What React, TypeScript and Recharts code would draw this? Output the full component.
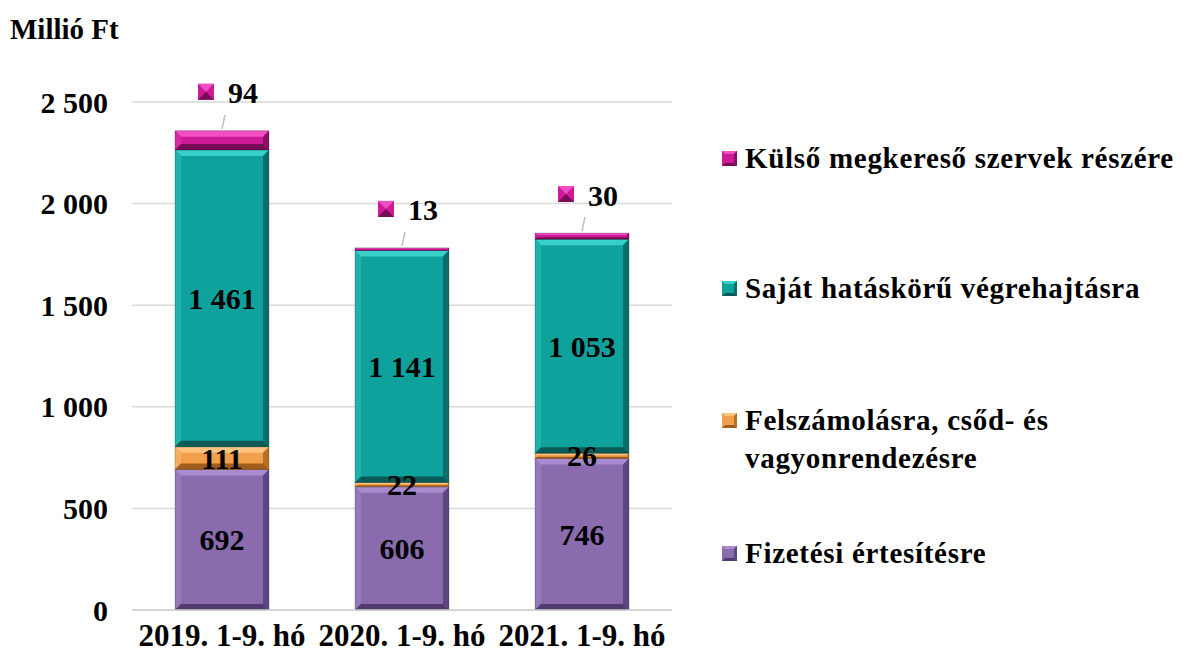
import React from "react";
import { BarChart, Bar, XAxis, YAxis, CartesianGrid, LabelList } from "recharts";

const CATEGORIES = ["2019. 1-9. hó", "2020. 1-9. hó", "2021. 1-9. hó"];
const FIZETESI = [692, 606, 746];
const FELSZAMOLAS = [111, 22, 26];
const SAJAT = [1461, 1141, 1053];
const KULSO = [94, 13, 30];
const Y_TICKS = [0, 500, 1000, 1500, 2000, 2500];

const SERIES_KEYS = ["fizetesi", "felszamolas", "sajat", "kulso"];
const SERIES_NAMES = [
  "Fizetési értesítésre",
  "Felszámolásra, csőd- és vagyonrendezésre",
  "Saját hatáskörű végrehajtásra",
  "Külső megkereső szervek részére",
];

const FONT = '"Liberation Serif", "Times New Roman", serif';

// base, top, left, right, bottom
const SHADES: Record<string, string[]> = {
  fizetesi: ["#8a6bae", "#a88ccf", "#957ab9", "#5e4680", "#4f3b6d"],
  felszamolas: ["#f3a04c", "#fdc380", "#f6ad60", "#b86e25", "#9f5d1d"],
  sajat: ["#0fa29d", "#38d0ca", "#1cb3ad", "#0a6e6b", "#085a57"],
  kulso: ["#cf1a98", "#ef4fc0", "#d92aa3", "#8c0f66", "#760c56"],
};

const data = CATEGORIES.map((name, i) => ({
  name,
  fizetesi: FIZETESI[i],
  felszamolas: FELSZAMOLAS[i],
  sajat: SAJAT[i],
  kulso: KULSO[i],
}));

function formatHu(v: number): string {
  return String(v).replace(/\B(?=(\d{3})+(?!\d))/g, " ");
}

function BevelBar(props: any) {
  const { x, y, width: w, height: h, shade } = props;
  if (!w || !h || h <= 0) return null;
  const c = SHADES[shade];
  const b = Math.min(6, h / 3, w / 3);
  return (
    <g>
      <rect x={x} y={y} width={w} height={h} fill={c[0]} />
      <polygon points={`${x},${y} ${x + w},${y} ${x + w - b},${y + b} ${x + b},${y + b}`} fill={c[1]} />
      <polygon points={`${x},${y} ${x + b},${y + b} ${x + b},${y + h - b} ${x},${y + h}`} fill={c[2]} />
      <polygon points={`${x + w},${y} ${x + w},${y + h} ${x + w - b},${y + h - b} ${x + w - b},${y + b}`} fill={c[3]} />
      <polygon points={`${x},${y + h} ${x + b},${y + h - b} ${x + w - b},${y + h - b} ${x + w},${y + h}`} fill={c[4]} />
      <rect x={x} y={y} width={w} height={h} fill="none" stroke="rgba(0,0,0,0.35)" strokeWidth={0.6} />
    </g>
  );
}

function InnerLabel(props: any) {
  const { x, y, width, height, value } = props;
  return (
    <text
      x={x + width / 2}
      y={y + height / 2}
      textAnchor="middle"
      dominantBaseline="central"
      fontFamily={FONT}
      fontWeight="bold"
      fontSize={30}
      fill="#000"
    >
      {formatHu(value)}
    </text>
  );
}

function TopLabel(props: any) {
  const { x, y, width, value } = props;
  const cx = x + width / 2;
  const c = SHADES.kulso;
  return (
    <g>
      <line x1={cx} y1={y - 2} x2={cx + 3} y2={y - 16} stroke="#bdbdbd" strokeWidth={1.5} />
      <rect x={cx - 24} y={y - 47} width={16} height={16} fill={c[0]} />
      <polygon points={`${cx - 24},${y - 47} ${cx - 8},${y - 47} ${cx - 16},${y - 39}`} fill={c[1]} />
      <polygon points={`${cx - 24},${y - 31} ${cx - 8},${y - 31} ${cx - 16},${y - 39}`} fill={c[4]} />
      <text
        x={cx + 21}
        y={y - 38}
        textAnchor="middle"
        dominantBaseline="central"
        fontFamily={FONT}
        fontWeight="bold"
        fontSize={30}
        fill="#000"
      >
        {formatHu(value)}
      </text>
    </g>
  );
}

function LegendMarker({ shade }: { shade: string }) {
  const c = SHADES[shade];
  return (
    <svg width={15} height={15} style={{ flex: "none", marginTop: 12, marginRight: 8 }}>
      <rect x={0} y={0} width={15} height={15} fill={c[0]} />
      <polygon points="0,0 15,0 12,3 3,3" fill={c[1]} />
      <polygon points="15,0 15,15 12,12 12,3" fill={c[3]} />
      <polygon points="0,15 15,15 12,12 3,12" fill={c[4]} />
    </svg>
  );
}

const LEGEND_ORDER = [3, 2, 1, 0];
const LEGEND_TOPS = [139, 269, 401, 534];

export default function App() {
  return (
    <div style={{ position: "absolute", left: 0, top: 0, width: 1182, height: 659, background: "#fff", fontFamily: FONT }}>
      <div style={{ position: "absolute", left: 10, top: 15, fontSize: 29, fontWeight: "bold", lineHeight: "29px" }}>
        Millió Ft
      </div>
      <BarChart
        width={1182}
        height={659}
        data={data}
        margin={{ top: 102, right: 510, bottom: 19, left: 12 }}
        barSize={94}
      >
        <CartesianGrid vertical={false} stroke="#d9d9d9" strokeWidth={1.5} />
        <XAxis
          dataKey="name"
          height={30}
          axisLine={{ stroke: "#d0d0d0", strokeWidth: 1.5 }}
          tickLine={false}
          tickMargin={8}
          tick={{ fill: "#000", fontSize: 31, fontWeight: "bold", fontFamily: FONT }}
        />
        <YAxis
          width={120}
          domain={[0, 2500]}
          ticks={Y_TICKS}
          axisLine={false}
          tickLine={false}
          tickMargin={18}
          tickFormatter={(v: number) => formatHu(v)}
          tick={{ fill: "#000", fontSize: 30, fontWeight: "bold", fontFamily: FONT }}
        />
        {SERIES_KEYS.map((key, i) => (
          <Bar
            key={key}
            dataKey={key}
            name={SERIES_NAMES[i]}
            stackId="a"
            fill={SHADES[key][0]}
            isAnimationActive={false}
            shape={(p: any) => <BevelBar {...p} shade={key} />}
          >
            <LabelList dataKey={key} content={key === "kulso" ? <TopLabel /> : <InnerLabel />} />
          </Bar>
        ))}
      </BarChart>
      {LEGEND_ORDER.map((idx, j) => (
        <div
          key={idx}
          style={{
            position: "absolute",
            left: 722,
            top: LEGEND_TOPS[j],
            width: 460,
            display: "flex",
            alignItems: "flex-start",
            fontSize: 29,
            fontWeight: "bold",
            lineHeight: "38px",
            letterSpacing: 0.7,
          }}
        >
          <LegendMarker shade={SERIES_KEYS[idx]} />
          <span style={{ width: idx === 1 ? 320 : 450, whiteSpace: idx === 1 ? "normal" : "nowrap" }}>{SERIES_NAMES[idx]}</span>
        </div>
      ))}
    </div>
  );
}
